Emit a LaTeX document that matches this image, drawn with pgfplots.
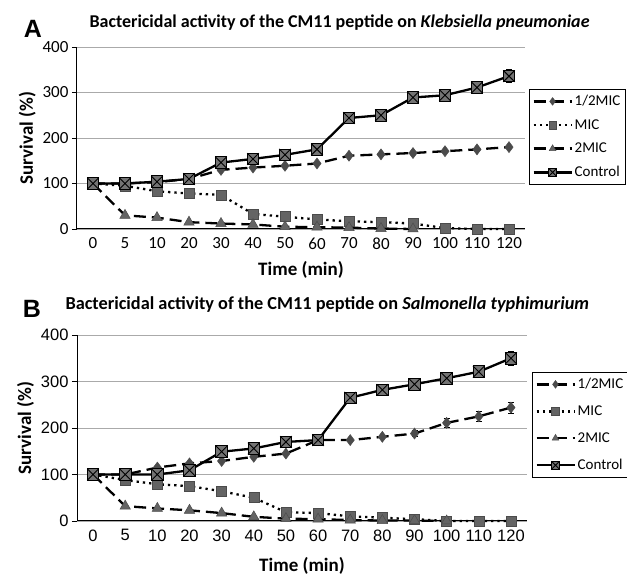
\documentclass[border=0pt]{standalone}
\usepackage{fontspec}
\setmainfont{Carlito}
\newfontfamily\arial{Liberation Sans}
\usepackage{pgfplots}
\pgfplotsset{compat=1.18}
\definecolor{mgray}{RGB}{75,75,75}
\definecolor{lgray}{RGB}{100,100,100}
\definecolor{cgray}{RGB}{115,115,115}
\definecolor{gridc}{RGB}{170,170,170}
\pgfdeclareplotmark{sqx}{%
  \pgfpathrectangle{\pgfqpoint{-\pgfplotmarksize}{-\pgfplotmarksize}}{\pgfqpoint{2\pgfplotmarksize}{2\pgfplotmarksize}}%
  \pgfusepathqfillstroke
  \pgfpathmoveto{\pgfqpoint{-\pgfplotmarksize}{-\pgfplotmarksize}}%
  \pgfpathlineto{\pgfqpoint{\pgfplotmarksize}{\pgfplotmarksize}}%
  \pgfpathmoveto{\pgfqpoint{-\pgfplotmarksize}{\pgfplotmarksize}}%
  \pgfpathlineto{\pgfqpoint{\pgfplotmarksize}{-\pgfplotmarksize}}%
  \pgfusepathqstroke
}
\pgfplotsset{
  myax/.style={
    scale only axis,
    xmin=-0.5, xmax=13.5, ymin=0, ymax=400,
    axis x line=bottom, axis y line=left,
    axis line style={-, black, line width=1pt},
    xtick={0,...,13},
    xticklabels={0,5,10,20,30,40,50,60,70,80,90,100,110,120},
    ytick={0,100,200,300,400},
    ymajorgrids, grid style={gridc, line width=0.9pt},
    xtick style={draw=none},
    ytick style={black, line width=0.8pt},
    tick align=outside, major tick length=5pt,
    /pgf/number format/assume math mode=true,
    xlabel={\bfseries Time (min)},
    ylabel={\bfseries Survival (\%)},
    label style={font=\fontsize{19}{21}\selectfont},
    clip=false,
    legend cell align=left,
    legend image code/.code={\draw[mark repeat=2,mark phase=2,mark size=3.8pt] plot coordinates {(0pt,0pt) (19pt,0pt) (38pt,0pt)};},
    legend style={anchor=north west, draw=black, line width=0.8pt, font=\fontsize{15}{18}\selectfont, inner xsep=3pt, inner ysep=4pt, /tikz/every even column/.append style={column sep=2pt}},
    error bars/y dir=both, error bars/y explicit,
    error bars/error bar style={black, line width=0.8pt, solid},
    error bars/error mark options={rotate=90, mark size=3pt, black, line width=0.8pt},
  },
  halfs/.style={black, line width=2.3pt, dash pattern=on 12pt off 6pt, mark=diamond*, mark size=5.5pt, mark options={solid, fill=mgray, draw=mgray, line width=0.5pt}},
  mics/.style={black, line width=2.3pt, dash pattern=on 2.3pt off 4pt, mark=square*, mark size=5pt, mark options={solid, fill=lgray, draw=mgray, line width=0.5pt}},
  twos/.style={black, line width=2.3pt, dash pattern=on 12pt off 6pt, mark=triangle*, mark size=6pt, mark options={solid, fill=lgray, draw=mgray, line width=0.5pt}},
  ctrls/.style={black, line width=2.3pt, solid, mark=sqx, mark size=5.8pt, mark options={solid, fill=cgray, draw=black, line width=0.9pt}},
}
\begin{document}
\begin{tikzpicture}[x=1pt,y=1pt]
\path[use as bounding box] (0,0) rectangle (627,576);
\node[font=\arial\bfseries\fontsize{25}{28}\selectfont] at (33,547) {A};
\node[font=\bfseries\fontsize{18}{21}\selectfont, anchor=west] at (86,553) {Bactericidal activity of the CM11 peptide on \textit{Klebsiella pneumoniae}};
\node[font=\arial\bfseries\fontsize{25}{28}\selectfont] at (32,267) {B};
\node[font=\bfseries\fontsize{18.3}{21}\selectfont, anchor=west] at (62,271) {Bactericidal activity of the CM11 peptide on \textit{Salmonella typhimurium}};

\begin{axis}[myax, at={(77pt,347pt)}, anchor=south west, width=448pt, height=182pt,
  ticklabel style={font=\fontsize{17}{19}\selectfont},
  xlabel style={yshift=-5pt},
  legend style={at={(rel axis cs:1.009,0.769)}, row sep=8.2pt}]
\addplot+[halfs] coordinates {(0,100) (1,100) (2,103) (3,110) (4,130) (5,135) (6,139) (7,144) (8,161) (9,164) (10,167) (11,171) (12,175) (13,180)};
\addplot+[mics] coordinates {(0,100) (1,95) (2,83) (3,78) (4,75) (5,33) (6,27) (7,21) (8,17) (9,15) (10,12) (11,2) (12,0) (13,0)};
\addplot+[twos] coordinates {(0,100) (1,30) (2,25) (3,15) (4,12) (5,10) (6,5) (7,4) (8,3) (9,1) (10,0)};
\addplot+[ctrls] coordinates {(0,100) (1,100) (2,104) (3,110) (4,146) (5,154) (6,163) (7,175) (8,244) (9,250) (10,289) +- (0,8) (11,294) +- (0,10) (12,311) +- (0,10) (13,336) +- (0,14)};
\legend{1/2MIC, MIC, 2MIC, Control}
\end{axis}

\begin{axis}[myax, at={(77pt,55pt)}, anchor=south west, width=450pt, height=186pt,
  ticklabel style={font=\arial\fontsize{16.5}{19}\selectfont},
  xlabel style={yshift=-9pt},
  legend style={at={(rel axis cs:1.011,0.801)}, row sep=11.5pt}]
\addplot+[halfs] coordinates {(0,100) (1,100) (2,115) (3,124) (4,129) (5,138) (6,145) (7,174) (8,174) (9,181) (10,188) +- (0,6) (11,211) +- (0,10) (12,225) +- (0,10) (13,244) +- (0,12)};
\addplot+[mics] coordinates {(0,100) (1,88) (2,79) (3,75) (4,64) (5,50) (6,19) (7,17) (8,10) (9,7) (10,4) (11,0) (12,0) (13,0)};
\addplot+[twos] coordinates {(0,100) (1,32) (2,27) (3,23) (4,17) (5,9) (6,5) (7,4) (8,2) (9,1) (10,1) (11,0)};
\addplot+[ctrls] coordinates {(0,100) (1,100) (2,100) (3,109) (4,149) (5,156) (6,170) (7,174) (8,265) +- (0,8) (9,282) +- (0,10) (10,294) +- (0,10) (11,307) +- (0,12) (12,321) +- (0,12) (13,350) +- (0,15)};
\legend{1/2MIC, MIC, 2MIC, Control}
\end{axis}
\end{tikzpicture}
\end{document}
